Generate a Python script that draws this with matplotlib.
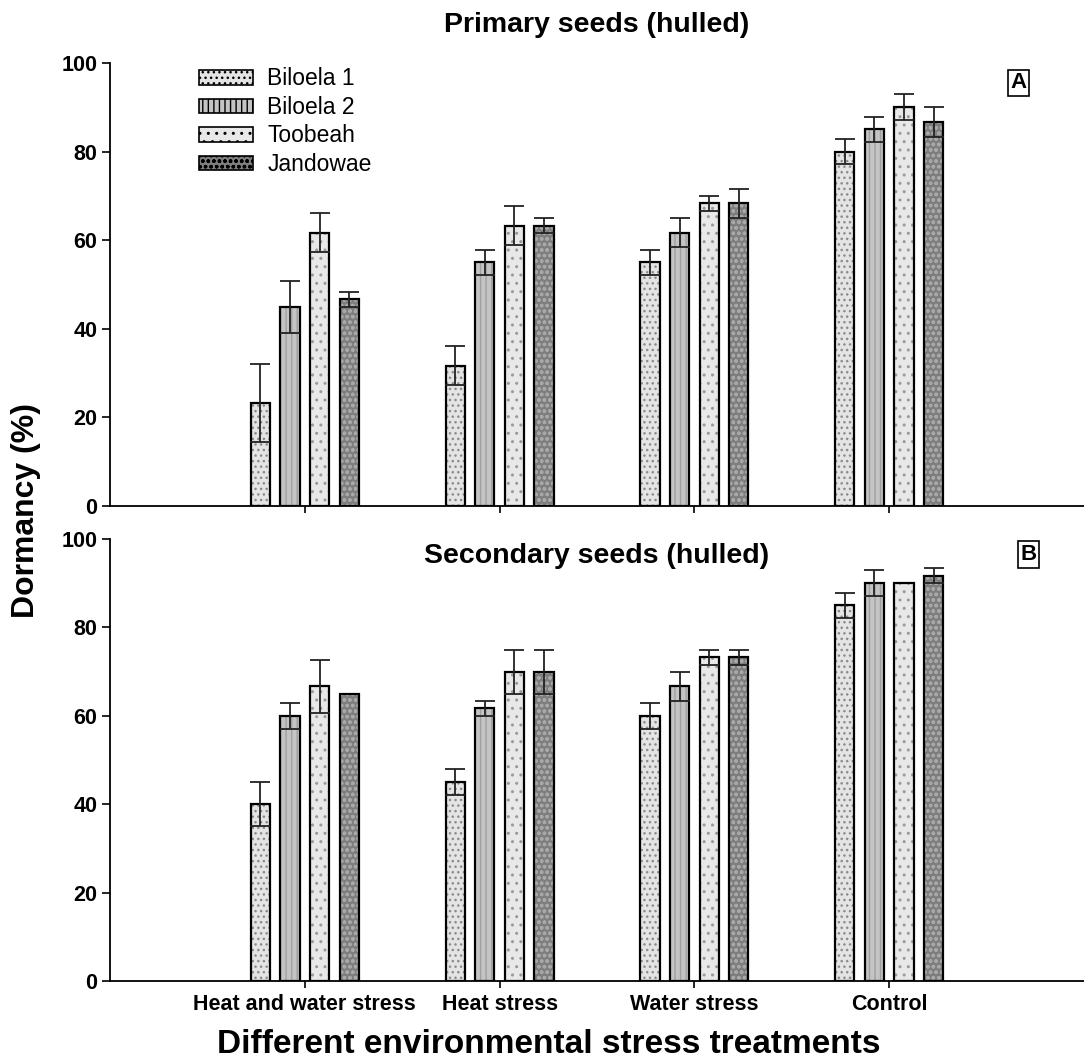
import numpy as np
import matplotlib.pyplot as plt
import matplotlib.patches as mpatches

plt.rcParams['font.family'] = ['Liberation Sans', 'DejaVu Sans']
plt.rcParams['hatch.linewidth'] = 1.0

# categories and series
treatments = ["Heat and water stress", "Heat stress", "Water stress", "Control"]
varieties = ["Biloela 1", "Biloela 2", "Toobeah", "Jandowae"]

# primary seeds (hulled) - mean and standard error
prim_mean = {
    "Biloela 1": [23.3, 31.7, 55.0, 80.0],
    "Biloela 2": [45.0, 55.0, 61.7, 85.0],
    "Toobeah":   [61.7, 63.3, 68.3, 90.0],
    "Jandowae":  [46.7, 63.3, 68.3, 86.7],
}
prim_err = {
    "Biloela 1": [8.8, 4.4, 2.9, 2.9],
    "Biloela 2": [5.9, 2.9, 3.3, 2.9],
    "Toobeah":   [4.4, 4.4, 1.7, 2.9],
    "Jandowae":  [1.7, 1.7, 3.3, 3.3],
}

# secondary seeds (hulled)
sec_mean = {
    "Biloela 1": [40.0, 45.0, 60.0, 85.0],
    "Biloela 2": [60.0, 61.7, 66.7, 90.0],
    "Toobeah":   [66.7, 70.0, 73.3, 90.0],
    "Jandowae":  [65.0, 70.0, 73.3, 91.7],
}
sec_err = {
    "Biloela 1": [5.0, 2.9, 2.9, 2.9],
    "Biloela 2": [2.9, 1.7, 3.3, 2.9],
    "Toobeah":   [6.0, 5.0, 1.7, 0.0],
    "Jandowae":  [0.0, 5.0, 1.7, 1.7],
}

# look of each variety: face colour, hatch, hatch colour
styles = {
    "Biloela 1": ("#e4e4e4", "...", "#8a8a8a"),
    "Biloela 2": ("#c4c4c4", "|||", "#a0a0a0"),
    "Toobeah":   ("#e8e8e8", "..", "#9a9a9a"),
    "Jandowae":  ("#7e7e7e", "ooo", "#a8a8a8"),
}

x = np.arange(1, len(treatments) + 1)
step = 0.152
width = 0.098

fig = plt.figure(figsize=(10.84, 10.63), dpi=100)
ax1 = fig.add_axes([0.1015, 0.524, 0.8985, 0.4167])
ax2 = fig.add_axes([0.1015, 0.0771, 0.8985, 0.4158])


def draw_panel(ax, means, errs):
    for i, v in enumerate(varieties):
        pos = x + (i - 1.5) * step
        face, hatch, hcol = styles[v]
        ax.bar(pos, means[v], width, color=face, edgecolor=hcol, hatch=hatch, linewidth=0)
        ax.bar(pos, means[v], width, fill=False, edgecolor="black", linewidth=1.6)
        e = np.array(errs[v])
        m = np.array(means[v])
        keep = e > 0
        ax.errorbar(pos[keep], m[keep], yerr=e[keep], fmt="none", ecolor="#222222",
                    elinewidth=1.3, capsize=7, capthick=1.3)
    ax.set_xlim(0, 5)
    ax.set_ylim(0, 100)
    ax.set_yticks([0, 20, 40, 60, 80, 100])
    ax.spines["top"].set_visible(False)
    ax.spines["right"].set_visible(False)
    ax.spines["left"].set_linewidth(1.3)
    ax.spines["bottom"].set_linewidth(1.3)
    ax.tick_params(axis="y", direction="out", length=6, width=1.2, labelsize=15.5, pad=3)
    ax.tick_params(axis="x", direction="out", length=5, width=1.2, labelsize=15.5, pad=4)
    for lab in ax.get_yticklabels():
        lab.set_fontweight("bold")
    ax.set_xticks(x)


draw_panel(ax1, prim_mean, prim_err)
draw_panel(ax2, sec_mean, sec_err)

ax1.set_xticklabels([])
ax2.set_xticklabels(treatments, fontweight="bold")

# legend with outlined patches
leg_handles = []
for v in varieties:
    face, hatch, hcol = styles[v]
    leg_handles.append(mpatches.Patch(facecolor=face, edgecolor="black", hatch=hatch, linewidth=1.2, label=v))
ax1.legend(handles=leg_handles, loc="upper left", bbox_to_anchor=(0.091, 0.99), frameon=False,
           borderpad=0, borderaxespad=0, fontsize=16.5, handlelength=2.35, handleheight=0.6,
           labelspacing=0.24, handletextpad=0.65)

ax1.set_title("Primary seeds (hulled)", fontsize=20.5, fontweight="bold", pad=22)
ax2.text(0.5, 0.962, "Secondary seeds (hulled)", transform=ax2.transAxes, ha="center", va="center",
         fontsize=20.5, fontweight="bold")

box = dict(boxstyle="square,pad=0.12", facecolor="white", edgecolor="black", linewidth=1.2)
ax1.text(0.933, 0.955, "A", transform=ax1.transAxes, ha="center", va="center", fontsize=16,
         fontweight="bold", bbox=box)
ax2.text(0.943, 0.965, "B", transform=ax2.transAxes, ha="center", va="center", fontsize=16,
         fontweight="bold", bbox=box)

fig.text(0.024, 0.52, "Dormancy (%)", rotation=90, ha="center", va="center", fontsize=23, fontweight="bold")
fig.text(0.506, 0.017, "Different environmental stress treatments", ha="center", va="center",
         fontsize=24, fontweight="bold")

fig.savefig("out.png", dpi=100)
